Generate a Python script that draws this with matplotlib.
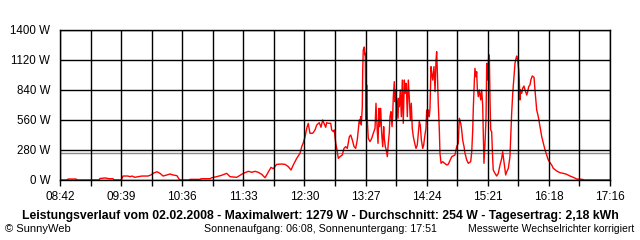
import numpy as np
import matplotlib
matplotlib.use("Agg")
import matplotlib.pyplot as plt

plt.rcParams['font.family'] = ['Liberation Sans', 'DejaVu Sans']

# minutes after midnight, power in W
minutes = [522, 528.5, 529.5, 537.0, 538.0, 558.4, 559.4, 564.1, 567.8, 571.5, 572.5, 578.7,
           579.7, 580.9, 585.5, 587.4, 589.3, 592.1, 594.9, 598.6, 604.2, 607.0, 608.9, 612.6,
           615.5, 618.3, 622.0, 624.8, 627.6, 631.3, 633.2, 634.1, 642.6, 643.5, 652.8, 653.8,
           662.2, 663.8, 668.4, 673.1, 677.8, 680.9, 687.1, 690.2, 693.3, 698.0, 701.2, 704.2,
           707.3, 710.5, 713.6, 716.7, 719.2, 721.3, 724.5, 729.2, 732.3, 735.4, 737.9, 740.0,
           743.2, 746.3, 747.9, 749.4, 751.0, 752.6, 754.0, 755.6, 758.2, 760.3, 761.9, 764.3,
           765.9, 767.5, 768.7, 770.3, 771.2, 772.7, 775.0, 775.9, 777.4, 778.3, 779.7, 780.6,
           782.1, 783.7, 785.8, 787.4, 789.0, 790.5, 792.4, 793.7, 795.2, 796.8, 798.3, 799.8,
           800.8, 801.7, 802.4, 803.0, 803.6, 804.5, 804.9, 805.4, 806.4, 807.0, 807.3, 808.0,
           808.6, 809.2, 810.1, 811.7, 813.3, 814.8, 816.4, 817.3, 818.3, 819.2, 820.1, 820.8,
           821.7, 822.6, 823.6, 824.5, 825.1, 826.0, 826.9, 827.9, 828.8, 829.7, 830.4, 831.3,
           832.3, 832.9, 833.5, 834.4, 835.1, 835.7, 836.3, 836.9, 837.9, 838.5, 839.1, 840.0,
           841.0, 841.9, 842.8, 843.8, 844.7, 845.6, 846.6, 847.5, 848.4, 849.4, 850.3, 851.2,
           852.2, 853.5, 854.7, 855.9, 856.9, 857.8, 858.7, 859.7, 861.0, 861.9, 862.8, 864.0,
           864.7, 865.3, 866.2, 867.1, 867.8, 868.7, 869.4, 870.3, 871.5, 872.5, 873.4, 874.0,
           874.6, 875.5, 876.5, 877.1, 878.1, 879.6, 881.5, 883.4, 884.9, 888.1, 891.1, 892.7,
           894.2, 895.2, 896.5, 897.4, 898.3, 899.6, 900.5, 902.1, 903.6, 905.8, 906.8, 907.7,
           908.3, 909.2, 909.8, 910.8, 911.4, 912.0, 912.9, 913.9, 915.2, 916.1, 917.0, 917.6,
           918.2, 919.2, 920.1, 920.8, 921.7, 922.6, 923.2, 923.9, 924.5, 925.4, 926.4, 926.9,
           928.5, 930.1, 931.6, 933.2, 934.8, 935.7, 936.7, 937.6, 938.5, 939.5, 941.0, 942.5,
           943.2, 944.1, 945.1, 946.3, 947.2, 948.2, 948.8, 949.7, 950.7, 951.2, 951.9, 952.5,
           953.5, 954.4, 955.6, 956.6, 958.2, 959.1, 960.0, 961.2, 962.2, 963.4, 965.0, 965.9,
           967.5, 969.0, 970.6, 972.2, 973.7, 975.3, 976.8, 978.3, 979.9, 981.5, 983.0, 986.2,
           989.3, 992.4, 995.5, 998.6, 1001.7, 1004.9, 1010.5, 1011.4, 1036]
watts = [0, 0, 9, 9, 0, 0, 14, 19, 12, 12, 0, 0,
         9, 37, 37, 31, 37, 25, 31, 37, 37, 47, 62, 77,
         62, 37, 47, 56, 47, 40, 9, 0, 0, 6, 6, 12,
         12, 21, 31, 44, 62, 31, 25, 44, 62, 81, 72, 81,
         72, 53, 21, 75, 118, 105, 146, 149, 146, 124, 93, 140,
         202, 249, 311, 348, 404, 482, 529, 436, 436, 467, 513, 535,
         492, 560, 529, 492, 535, 529, 529, 467, 451, 467, 342, 295,
         202, 218, 233, 295, 311, 295, 404, 420, 373, 311, 295, 373,
         467, 560, 529, 591, 513, 684, 1027, 1213, 1241, 1167, 1182, 560,
         886, 560, 389, 358, 389, 436, 482, 716, 498, 342, 669, 498,
         669, 436, 311, 498, 389, 311, 280, 218, 342, 436, 591, 638,
         498, 607, 778, 918, 731, 840, 560, 762, 576, 762, 684, 840,
         591, 933, 529, 933, 809, 902, 591, 933, 778, 560, 716, 482,
         404, 342, 295, 327, 436, 544, 513, 373, 295, 327, 404, 482,
         653, 560, 653, 591, 669, 1058, 996, 933, 1058, 824, 1120, 1198,
         1027, 716, 467, 249, 156, 171, 156, 140, 147, 218, 233, 311,
         342, 576, 529, 467, 373, 311, 249, 187, 156, 171, 264, 467,
         684, 918, 1042, 964, 1011, 856, 778, 840, 747, 840, 700, 420,
         156, 342, 560, 1089, 933, 1151, 1167, 747, 467, 451, 187, 93,
         62, 37, 62, 140, 202, 264, 187, 124, 47, 77, 109, 218,
         404, 622, 809, 964, 1089, 1136, 1157, 1120, 1027, 933, 747, 840,
         809, 856, 877, 840, 793, 824, 871, 887, 940, 971, 958, 840,
         653, 591, 498, 404, 342, 280, 233, 187, 162, 140, 109, 84,
         68, 62, 53, 37, 25, 9, 6, 0, 0]

average = 254
y_ticks = [0, 280, 560, 840, 1120, 1400]
x_labels = ["08:42", "09:39", "10:36", "11:33", "12:30", "13:27", "14:24", "15:21", "16:18", "17:16"]
t_start, t_end = 522, 1036

fig = plt.figure(figsize=(6.4, 2.4), dpi=100)
ax = fig.add_axes([60 / 640, 60 / 240, 550 / 640, 150 / 240])

ax.plot(minutes, watts, color="red", lw=1.0, zorder=2)
ax.axhline(average, color="#8c8c8c", lw=1.0, zorder=1)

grid = np.linspace(t_start, t_end, 19)
for g in grid:
    ax.axvline(g, color="black", lw=1.0, zorder=3)
for y in y_ticks:
    ax.axhline(y, color="black", lw=1.0, zorder=3)

ax.set_xlim(t_start, t_end)
ax.set_ylim(0, 1400)
ax.set_xticks(grid)
ax.set_xticklabels([x_labels[i // 2] if i % 2 == 0 else "" for i in range(19)])
ax.set_yticks(y_ticks)
ax.set_yticklabels([f"{v} W" for v in y_ticks])
ax.tick_params(axis="x", length=4, width=1, pad=4, labelsize=8.5)
ax.tick_params(axis="y", length=0, pad=7, labelsize=8.3)
for s in ax.spines.values():
    s.set_linewidth(1)

fig.text(0.5, 1 - 216 / 240, "Leistungsverlauf vom 02.02.2008 - Maximalwert: 1279 W - Durchschnitt: 254 W - Tagesertrag: 2,18 kWh",
         ha="center", va="center", fontsize=8.8, fontweight="bold")
fig.text(5 / 640, 1 - 229 / 240, "© SunnyWeb", ha="left", va="center", fontsize=8)
fig.text(320 / 640, 1 - 229 / 240, "Sonnenaufgang: 06:08, Sonnenuntergang: 17:51", ha="center", va="center", fontsize=7.7)
fig.text(634 / 640, 1 - 229 / 240, "Messwerte Wechselrichter korrigiert", ha="right", va="center", fontsize=7.5)

fig.savefig("out.png", dpi=100)
